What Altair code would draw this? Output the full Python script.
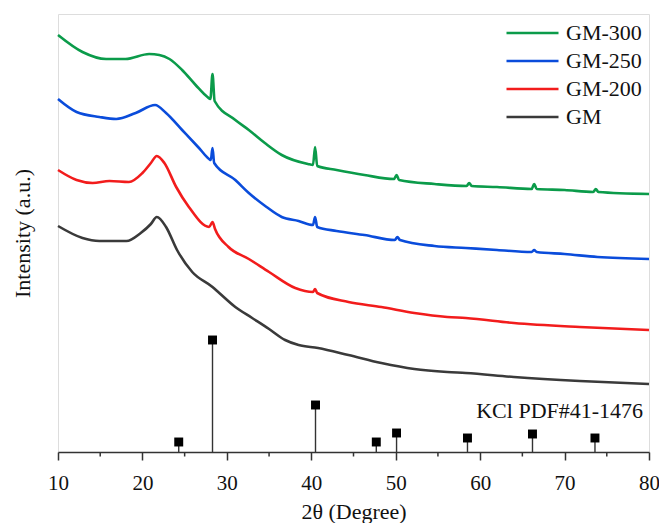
import altair as alt
import pandas as pd

series_names = ["GM-300", "GM-250", "GM-200", "GM"]
series_colors = ["#0B9B4A", "#0A4CDB", "#F21C1C", "#3A3A3A"]

gm300_x = [10, 12.9, 15.7, 18, 20.8, 22, 23.2, 24.7, 26.3, 27.7, 28.05, 28.3, 28.55, 31, 32.6, 34.5,
           36.5, 39.6, 40.2, 40.45, 40.7, 43, 46.3, 49.8, 50.1, 50.4, 54.6, 58.4, 58.7, 59.0, 62,
           66.1, 66.4, 66.7, 70, 73.4, 73.7, 74, 80]
gm300_y = [417, 400, 393, 393, 398, 397, 393, 382, 367, 355, 353, 378, 351, 332, 322, 309,
           297, 288, 287, 305, 286, 282, 277, 273, 277, 272, 268, 266, 269, 266, 265,
           263, 268, 263, 262, 260, 263, 260, 258]

gm250_x = [10, 12.2, 14.9, 16.9, 19.2, 21.5, 22.8, 24.7, 26.7, 27.9, 28.1, 28.3, 28.5, 31, 32.6, 34.7,
           36.5, 38.5, 40.2, 40.45, 40.7, 43, 46.3, 49.9, 50.2, 50.5, 54.6, 58.3, 62, 66.1, 66.4,
           66.7, 70, 73.9, 80]
gm250_y = [353, 340, 335, 333, 339, 347, 339, 322, 304, 293, 292, 304, 289, 272, 259, 245,
           235, 231, 227, 235, 225, 221, 217, 212, 215, 212, 206, 204, 202, 200, 202,
           200, 198, 195, 193]

gm200_x = [10, 12.2, 14.1, 16.1, 18.4, 20, 21.0, 21.7, 22.6, 24, 25.5, 27.9, 28.3, 28.6, 30.2, 32.6,
           35, 38.1, 40.2, 40.45, 40.7, 44.4, 48.3, 52.2, 56.1, 58.3, 64, 71.8, 80]
gm200_y = [282, 272, 269, 271, 270, 279, 289, 296, 289, 265, 245, 225, 230, 223, 205, 193,
           180, 164, 160, 163, 159, 150, 145, 139, 135, 134, 129, 125, 122]

gm_x = [10, 12.9, 14.9, 18.1, 19.8, 21.0, 21.7, 22.8, 24.1, 25.9, 28.3, 29.1, 31, 33, 35, 36.9,
        38.5, 40.8, 44.4, 48.3, 52.2, 56.1, 58.3, 64, 71.8, 80]
gm_y = [226, 214, 211, 211, 219, 228, 235, 225, 202, 180, 165, 159, 145, 134, 123, 112,
        107, 104, 97, 89, 83, 80, 79, 75, 71, 68]

stick_x = [24.3, 28.3, 40.5, 47.7, 50.1, 58.5, 66.2, 73.6]
stick_y = [10, 112, 47, 10, 19, 14, 18, 14]

ref_label = "KCl PDF#41-1476"
ref_label_x = 79.3
ref_label_y = 41.5

x_ticks = [10, 20, 30, 40, 50, 60, 70, 80]
minor_ticks = [15, 25, 35, 45, 55, 65, 75]

FONT = "Liberation Serif"

rows = []
for name, xs, ys in [("GM-300", gm300_x, gm300_y), ("GM-250", gm250_x, gm250_y),
                     ("GM-200", gm200_x, gm200_y), ("GM", gm_x, gm_y)]:
    for a, b in zip(xs, ys):
        rows.append({"series": name, "theta": a, "intensity": b})
curves = pd.DataFrame(rows)

sticks = pd.DataFrame({"theta": stick_x, "intensity": stick_y, "base": [0] * len(stick_x)})
label_df = pd.DataFrame({"theta": [ref_label_x], "intensity": [ref_label_y], "text": [ref_label]})
minor_df = pd.DataFrame({"theta": minor_ticks})

xscale = alt.Scale(domain=[10, 80], nice=False, zero=False)
yscale = alt.Scale(domain=[0, 438], nice=False, zero=False)

lines = alt.Chart(curves).mark_line(strokeWidth=2.6, strokeJoin="round", interpolate="monotone").encode(
    x=alt.X("theta:Q", scale=xscale,
            axis=alt.Axis(values=x_ticks, title="2θ (Degree)", grid=False, tickSize=8,
                          tickColor="#333333", tickWidth=1.5, domainColor="#333333", domainWidth=1.5,
                          labelFont=FONT, labelFontSize=21, labelColor="#111111", labelPadding=12,
                          labelFlush=False,
                          titleFont=FONT, titleFontSize=22, titleFontWeight="normal",
                          titleColor="#111111", titlePadding=8, format="d")),
    y=alt.Y("intensity:Q", scale=yscale,
            axis=alt.Axis(labels=False, ticks=False, domain=False, grid=False,
                          title="Intensity (a.u.)", titleFont=FONT, titleFontSize=22,
                          titleFontWeight="normal", titleColor="#111111", titlePadding=24)),
    color=alt.Color("series:N", scale=alt.Scale(domain=series_names, range=series_colors),
                    sort=series_names,
                    legend=alt.Legend(title=None, orient="none", legendX=447, legendY=5,
                                      symbolType="stroke", symbolSize=2704, symbolStrokeWidth=2.5,
                                      clipHeight=28, rowPadding=0, padding=0, labelOffset=6,
                                      labelFont=FONT, labelFontSize=22, labelColor="#111111")),
    detail="series:N",
)

stems = alt.Chart(sticks).mark_rule(color="#333333", strokeWidth=1.4).encode(
    x=alt.X("theta:Q", scale=xscale),
    y=alt.Y("base:Q", scale=yscale),
    y2="intensity:Q",
)

squares = alt.Chart(sticks).mark_square(size=80, color="#000000", opacity=1, filled=True).encode(
    x=alt.X("theta:Q", scale=xscale),
    y=alt.Y("intensity:Q", scale=yscale),
)

label = alt.Chart(label_df).mark_text(align="right", baseline="middle", font=FONT,
                                      fontSize=22, color="#111111").encode(
    x=alt.X("theta:Q", scale=xscale),
    y=alt.Y("intensity:Q", scale=yscale),
    text="text:N",
)

minor = alt.Chart(minor_df).mark_rule(color="#333333", strokeWidth=1.5).encode(
    x=alt.X("theta:Q", scale=xscale),
    y=alt.value(438),
    y2=alt.value(442.5),
)

chart = alt.layer(stems, squares, lines, label, minor).properties(
    width=591, height=438,
    autosize=alt.AutoSizeParams(type="none"),
    padding={"left": 50, "top": 6, "right": 10, "bottom": 71},
).configure_view(stroke="#333333", strokeWidth=1.5).configure(background="white")

chart.save("out.html", embed_options={"renderer": "svg", "actions": False})
